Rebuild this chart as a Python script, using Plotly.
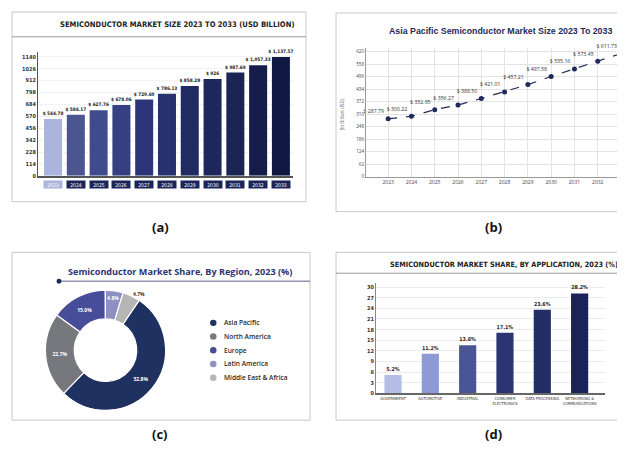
import plotly.graph_objects as go

# page offset (browser body margin) compensation
OFF = 8
W, H = 625 - OFF, 453 - OFF

# ---------- data ----------
years_a = [2023, 2024, 2025, 2026, 2027, 2028, 2029, 2030, 2031, 2032, 2033]
market_size = [544.78, 584.17, 627.76, 678.06, 729.60, 786.13, 858.28, 926, 987.69, 1057.33, 1137.57]
ticks_a = [0, 114, 228, 342, 456, 570, 684, 798, 912, 1026, 1140]

years_b = [2023, 2024, 2025, 2026, 2027, 2028, 2029, 2030, 2031, 2032, 2033]
apac_size = [287.79, 300.22, 332.95, 356.27, 388.50, 421.01, 457.21, 497.58, 535.16, 573.45, 611.73]
ticks_b = [0, 62, 124, 186, 248, 310, 372, 434, 496, 558, 620]

regions = ["Asia Pacific", "North America", "Europe", "Latin America", "Middle East & Africa"]
region_share = [52.8, 22.7, 15.0, 4.8, 4.7]

applications = ["GOVERNMENT", "AUTOMOTIVE", "INDUSTRIAL", "CONSUMER<br>ELECTRONICS",
                "DATA PROCESSING", "NETWORKING &<br>COMMUNICATIONS"]
app_share = [5.2, 11.2, 13.6, 17.1, 23.6, 28.2]
ticks_d = [0, 3, 6, 9, 12, 15, 18, 21, 24, 27, 30]

# ---------- styles ----------
colors_a = ["#aab4dc", "#4b5592", "#404b8d", "#363f82", "#2c3579", "#26316f",
            "#202b62", "#1d275b", "#1a2455", "#151d4b", "#111842"]
colors_region = ["#1f3161", "#76787e", "#474d98", "#8c90c2", "#b5b5b5"]
colors_d = ["#b4bde3", "#8d9ad3", "#4a5596", "#2b3371", "#232e66", "#1a2258"]

COND = "Liberation Sans Narrow, DejaVu Sans Condensed, Roboto, sans-serif"
SANS = "Open Sans, Roboto, sans-serif"


def px(x):
    return (x - OFF) / W


def py(y):
    return 1 - (y - OFF) / H


def money(v):
    return f"$ {v:,}" if isinstance(v, int) else f"$ {v:,.2f}"


fig = go.Figure()

# (a) bar chart
fig.add_trace(go.Bar(
    x=years_a, y=market_size, width=0.79, marker=dict(color=colors_a, line=dict(width=0)),
    text=[money(v) for v in market_size], textposition="outside", cliponaxis=False,
    constraintext="none",
    textfont=dict(family=COND, size=4.7, color="#222", weight=700),
    xaxis="x", yaxis="y", showlegend=False))

# (b) line chart
fig.add_trace(go.Scatter(
    x=years_b, y=apac_size, mode="lines+markers+text",
    line=dict(color="#262b52", width=1.2, dash="dash"),
    marker=dict(color="#1f2a5c", size=5),
    text=[money(v) for v in apac_size], textposition="top left", cliponaxis=False,
    textfont=dict(family=SANS, size=5.2, color="#333"),
    xaxis="x2", yaxis="y2", showlegend=False))

# (c) donut
fig.add_trace(go.Pie(
    labels=regions, values=region_share, sort=False, direction="clockwise", rotation=34,
    hole=0.52, marker=dict(colors=colors_region, line=dict(color="white", width=1.2)),
    text=[f"{v:.1f}%" for v in region_share], textinfo="text",
    textposition=["inside", "inside", "inside", "inside", "outside"],
    insidetextorientation="horizontal",
    textfont=dict(family=SANS, size=5, color="white", weight=700),
    outsidetextfont=dict(family=SANS, size=5, color="#333", weight=700),
    domain=dict(x=[px(45), px(166)], y=[py(413), py(292)]),
    showlegend=False))

# (d) bar chart
fig.add_trace(go.Bar(
    x=applications, y=app_share, width=0.46, marker=dict(color=colors_d, line=dict(width=0)),
    text=[f"{v:.1f}%" for v in app_share], textposition="outside", cliponaxis=False,
    constraintext="none",
    textfont=dict(family=COND, size=5.3, color="#222", weight=700),
    xaxis="x3", yaxis="y3", showlegend=False))

shapes = []
# cards
for (x0, y0, x1, y1) in [(12, 12, 306, 203), (336, 13, 640, 213), (12, 254, 310, 423), (336, 254, 640, 423)]:
    shapes.append(dict(type="rect", xref="paper", yref="paper", x0=px(x0), x1=px(x1), y0=py(y1), y1=py(y0),
                       line=dict(color="#c8c8c8", width=1), fillcolor="white", layer="below"))
# title separators
shapes.append(dict(type="line", xref="paper", yref="paper", x0=px(12), x1=px(306), y0=py(37), y1=py(37),
                   line=dict(color="#9a9a9a", width=1)))
shapes.append(dict(type="line", xref="paper", yref="paper", x0=px(336), x1=px(625), y0=py(275), y1=py(275),
                   line=dict(color="#9a9a9a", width=1)))
# (c) underline with dot
shapes.append(dict(type="line", xref="paper", yref="paper", x0=px(59), x1=px(310), y0=py(283), y1=py(283),
                   line=dict(color="#5a5f80", width=1)))
shapes.append(dict(type="circle", xref="paper", yref="paper", x0=px(56.5), x1=px(61.5), y0=py(285.5), y1=py(280.5),
                   line=dict(color="#1f2a5c", width=0), fillcolor="#1f2a5c"))

annotations = []
# (c) legend: circle markers + labels
for i, (name, col) in enumerate(zip(regions, colors_region)):
    yc = 325 + 13.8 * i
    shapes.append(dict(type="circle", xref="paper", yref="paper", x0=px(210), x1=px(216.5),
                       y0=py(yc + 3.25), y1=py(yc - 3.25), line=dict(width=0), fillcolor=col))
    annotations.append(dict(x=px(222), y=py(yc), xanchor="left", text=name,
                            font=dict(family=SANS, size=6.6, color="#2a2a2a", weight=600)))

# year boxes under (a) bars
for i, yr in enumerate(years_a):
    annotations.append(dict(x=yr, xref="x", y=py(186), text=str(yr),
                            bgcolor=colors_a[0] if i == 0 else "#1c2559", width=18, height=7,
                            font=dict(family=COND, size=5, color="white"), borderpad=0))
# titles
annotations += [
    dict(x=px(177), y=py(25), text="<b>SEMICONDUCTOR MARKET SIZE 2023 TO 2033 (USD BILLION)</b>",
         font=dict(family=COND, size=7.6, color="#222")),
    dict(x=px(500), y=py(31), text="<b>Asia Pacific Semiconductor Market Size 2023 To 2033</b>",
         font=dict(family="Liberation Sans, Arial, sans-serif", size=8.8, color="#1f2a5c")),
    dict(x=px(180), y=py(273), text="<b>Semiconductor Market Share, By Region, 2023 (%)</b>",
         font=dict(family=SANS, size=9.1, color="#2e3470")),
    dict(x=px(504), y=py(266), text="<b>SEMICONDUCTOR MARKET SHARE, BY APPLICATION, 2023 (%)</b>",
         font=dict(family=COND, size=7.3, color="#222")),
    dict(x=px(342), y=py(115), textangle=-90, text="(In Billion USD)",
         font=dict(family=SANS, size=4.6, color="#555")),
]
# panel letters
for lbl, x, y in [("(a)", 160, 228), ("(b)", 493, 228), ("(c)", 160, 437), ("(d)", 493, 437)]:
    annotations.append(dict(x=px(x), y=py(y), text=f"<b>{lbl}</b>",
                            font=dict(family=SANS, size=13, color="#111")))
for a in annotations:
    a.setdefault("xref", "paper")
    a.setdefault("yref", "paper")
    a.setdefault("showarrow", False)
    a.setdefault("xanchor", "center")
    a.setdefault("yanchor", "middle")

tickfont_c = dict(family=COND, size=5.5, color="#333", weight=700)
fig.update_layout(
    width=W, height=H, margin=dict(l=0, r=0, t=0, b=0),
    paper_bgcolor="white", plot_bgcolor="rgba(0,0,0,0)",
    xaxis=dict(type="linear", domain=[px(38), px(293)], range=[2022.34, 2033.53], showticklabels=False,
               showgrid=False, ticks="", zeroline=False,
               showline=True, linecolor="#555", linewidth=2, anchor="y"),
    yaxis=dict(domain=[py(177), py(52)], range=[0, 1187.5], tickvals=ticks_a, tickfont=tickfont_c,
               showgrid=True, gridcolor="#f2f2f2", zeroline=False, showline=True, linecolor="#555",
               linewidth=1, ticks="", anchor="x"),
    xaxis2=dict(type="linear", domain=[px(366), px(625)], range=[2022.05, 2033.17], tickvals=years_b,
                tickfont=dict(family=SANS, size=5, color="#444"), showgrid=True, gridcolor="#e3e3e3",
                showline=True, linecolor="#999", linewidth=1, ticks="", anchor="y2", zeroline=False),
    yaxis2=dict(domain=[py(178), py(48)], range=[0, 640], tickvals=ticks_b,
                tickfont=dict(family=SANS, size=4.6, color="#444"), showgrid=True, gridcolor="#e3e3e3",
                showline=True, linecolor="#999", linewidth=1, ticks="", anchor="x2", zeroline=False),
    xaxis3=dict(type="category", domain=[px(376), px(605)], range=[-0.456, 5.68],
                tickfont=dict(family=COND, size=4, color="#333"),
                showgrid=False, showline=True, linecolor="#666", linewidth=1.5, ticks="", anchor="y3"),
    yaxis3=dict(domain=[py(396), py(285)], range=[0, 31.1], tickvals=ticks_d, tickfont=tickfont_c,
                showgrid=True, gridcolor="#ececec", zeroline=False, showline=True, linecolor="#888",
                linewidth=1, ticks="", anchor="x3"),
    showlegend=False,
    shapes=shapes, annotations=annotations,
)

fig.write_html("out.html")
